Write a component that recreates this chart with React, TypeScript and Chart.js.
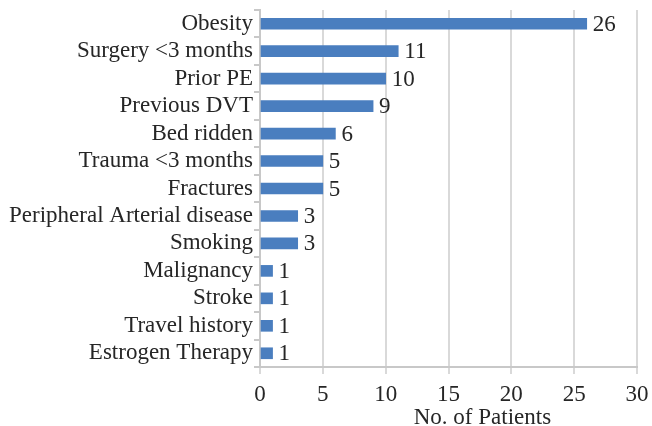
import React, { useEffect, useRef } from "react";
import { Chart, registerables } from "chart.js";

Chart.register(...registerables);

const categories = [
  "Obesity",
  "Surgery <3 months",
  "Prior PE",
  "Previous DVT",
  "Bed ridden",
  "Trauma <3 months",
  "Fractures",
  "Peripheral Arterial disease",
  "Smoking",
  "Malignancy",
  "Stroke",
  "Travel history",
  "Estrogen Therapy",
];
const patients = [26, 11, 10, 9, 6, 5, 5, 3, 3, 1, 1, 1, 1];
const xTitle = "No. of Patients";

const FONT = '"Liberation Serif", "Times New Roman", serif';
const TEXT = "#262626";

const valueLabels = {
  id: "valueLabels",
  afterDatasetsDraw(chart: any) {
    const ctx = chart.ctx;
    const meta = chart.getDatasetMeta(0);
    ctx.save();
    ctx.font = `23px ${FONT}`;
    ctx.fillStyle = TEXT;
    ctx.textAlign = "left";
    ctx.textBaseline = "middle";
    meta.data.forEach((bar: any, i: number) => {
      ctx.fillText(String(patients[i]), bar.x + 6, bar.y + 1);
    });
    ctx.restore();
  },
};

const axisTitle = {
  id: "axisTitle",
  afterDraw(chart: any) {
    const ctx = chart.ctx;
    const xs = chart.scales.x;
    ctx.save();
    ctx.font = `23px ${FONT}`;
    ctx.fillStyle = TEXT;
    ctx.textAlign = "center";
    ctx.textBaseline = "alphabetic";
    ctx.fillText(xTitle, xs.getPixelForValue(17.7), 424);
    ctx.restore();
  },
};

export default function App() {
  const ref = useRef<HTMLCanvasElement>(null);
  useEffect(() => {
    if (!ref.current) return;
    const chart = new Chart(ref.current, {
      type: "bar",
      data: {
        labels: categories,
        datasets: [
          {
            data: patients,
            backgroundColor: "#4a7ebf",
            borderWidth: 0,
            barThickness: 11,
          },
        ],
      },
      options: {
        indexAxis: "y",
        responsive: false,
        animation: false,
        layout: { padding: { left: 0, top: 10, right: 15, bottom: 0 } },
        plugins: {
          legend: { display: false },
          tooltip: { enabled: false },
          title: { display: false },
        },
        scales: {
          x: {
            min: 0,
            max: 30,
            ticks: {
              stepSize: 5,
              color: TEXT,
              font: { family: FONT, size: 23 },
              padding: 7,
              maxRotation: 0,
            },
            grid: {
              color: "#d9d9d9",
              lineWidth: 2,
              tickLength: 7,
              drawTicks: true,
            },
            border: { display: true, color: "#c8c8c8", width: 2 },
            afterFit(scale: any) {
              scale.height = 59;
              scale.paddingLeft = 0;
              scale.paddingRight = 0;
            },
          },
          y: {
            ticks: {
              color: TEXT,
              font: { family: FONT, size: 23 },
              padding: 1,
              autoSkip: false,
            },
            grid: {
              drawOnChartArea: false,
              color: "#c8c8c8",
              lineWidth: 2,
              tickLength: 6,
              offset: true,
            },
            border: { display: true, color: "#c8c8c8", width: 2 },
            afterFit(scale: any) {
              scale.width = 260;
              scale.paddingTop = 0;
              scale.paddingBottom = 0;
            },
          },
        },
      },
      plugins: [valueLabels, axisTitle],
    });
    return () => chart.destroy();
  }, []);
  return (
    <div style={{ position: "absolute", left: 0, top: 0, width: 652, height: 426, background: "#fff" }}>
      <canvas ref={ref} width={652} height={426} />
    </div>
  );
}
